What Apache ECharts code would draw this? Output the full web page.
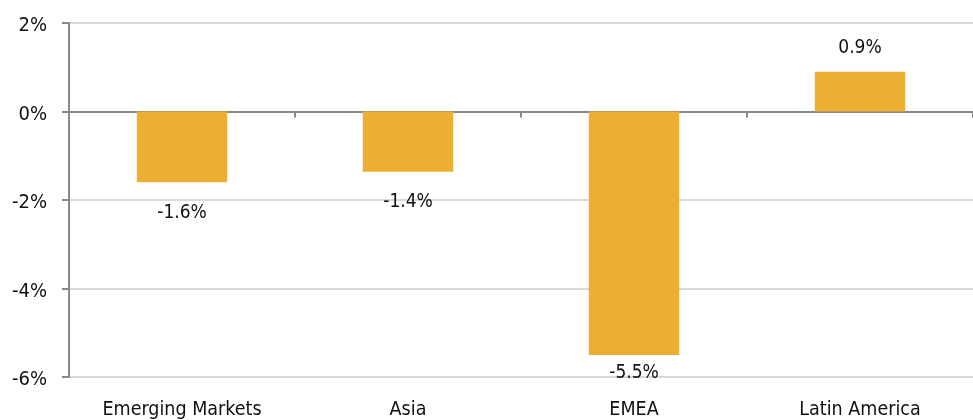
<!DOCTYPE html>
<html>
<head>
<meta charset="utf-8">
<script src="https://cdn.jsdelivr.net/npm/echarts@6/dist/echarts.min.js"></script>
<style>html,body{margin:0;padding:0;background:#fff}#c{width:973px;height:420px}</style>
</head>
<body>
<div id="c"></div>
<script>
const categories = ["Emerging Markets", "Asia", "EMEA", "Latin America"];
const values = [-1.6, -1.36, -5.5, 0.9];
const yTicks = [-6, -4, -2, 0, 2];

const FONT = '"Liberation Sans Narrow", "DejaVu Sans Condensed", "Liberation Sans", sans-serif';
const chart = echarts.init(document.getElementById('c'));
chart.setOption({
  animation: false,
  grid: { left: 69, right: -8, top: 23, bottom: 42 },
  xAxis: [
    {
      type: 'category', data: categories, position: 'bottom',
      axisLine: { show: false, onZero: false }, axisTick: { show: false },
      axisLabel: { fontFamily: FONT, fontSize: 19.5, color: '#111', margin: 23, interval: 0 }
    },
    {
      type: 'category', data: categories, position: 'bottom',
      axisLine: { show: true, onZero: true, lineStyle: { color: '#888', width: 2 } },
      axisTick: { show: true, inside: false, length: 6, lineStyle: { color: '#888', width: 2 } },
      axisLabel: { show: false }
    }
  ],
  yAxis: {
    type: 'value', min: yTicks[0], max: yTicks[yTicks.length - 1], interval: 2,
    axisLine: { show: true, lineStyle: { color: '#888', width: 2 } },
    axisTick: { show: true, length: 7, lineStyle: { color: '#888', width: 2 } },
    axisLabel: {
      fontFamily: FONT, fontSize: 20, color: '#111', margin: 22,
      formatter: v => '{a|' + v + '%}',
      rich: { a: { fontFamily: FONT, fontSize: 20, color: '#111', padding: [6, 0, 0, 0] } }
    },
    splitLine: { show: true, lineStyle: { color: '#d9d9d9', width: 2 } }
  },
  series: [{
    type: 'bar', xAxisIndex: 0, barWidth: '40%',
    itemStyle: { color: '#EDAF33' },
    label: {
      show: true, fontFamily: FONT, fontSize: 19, color: '#111',
      formatter: p => (Math.round(p.value * 10) / 10).toFixed(1) + '%'
    },
    data: values.map((v, i) => ({
      value: v,
      label: { position: v < 0 ? 'bottom' : 'top', distance: v < 0 ? (i === 2 ? 9 : 21) : 14 }
    }))
  }]
});
</script>
</body>
</html>
